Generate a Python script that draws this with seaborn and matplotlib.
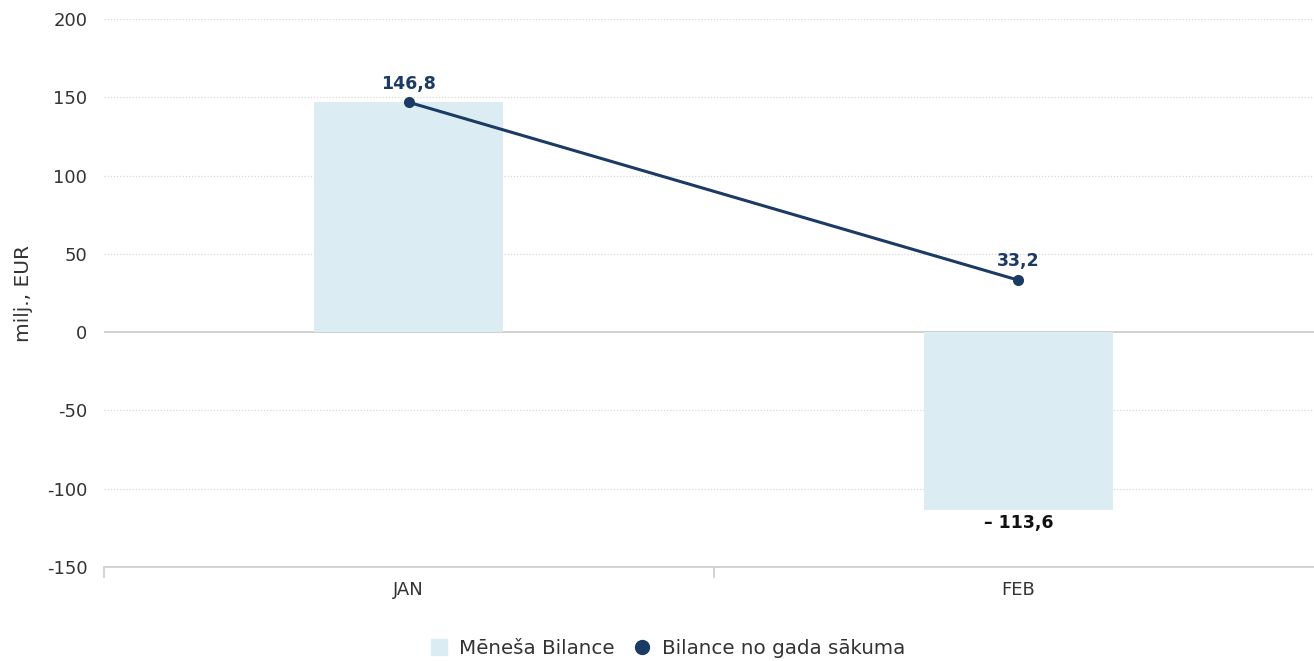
import matplotlib.pyplot as plt
import matplotlib.lines as mlines
import seaborn as sns
import pandas as pd

months = ['JAN', 'FEB']
monthly_balance = [146.8, -113.6]
ytd_balance = [146.8, 33.2]
y_ticks = [-150, -100, -50, 0, 50, 100, 150, 200]
y_tick_labels = ['-150', '-100', '-50', '0', '50', '100', '150', '200']

BAR_COLOR = '#dbedf3'
LINE_COLOR = '#1b3a64'
TEXT_COLOR = '#333333'

sns.set_style("white")
plt.rcParams['font.family'] = ['DejaVu Sans']

df = pd.DataFrame({'month': months, 'monthly': monthly_balance, 'ytd': ytd_balance})

fig = plt.figure(figsize=(13.14, 6.61), dpi=100)
ax = fig.add_axes([104 / 1314, 1 - 567 / 661, 1 - 104 / 1314, 548 / 661])

sns.barplot(data=df, x='month', y='monthly', color=BAR_COLOR, width=0.31,
            saturation=1, linewidth=0, ax=ax, zorder=2)
sns.lineplot(data=df, x='month', y='ytd', color=LINE_COLOR, linewidth=2.2,
             marker='o', markersize=8, markeredgewidth=0, ax=ax, zorder=4)

# the plot area is slightly cut at the right edge in the reference
ax.set_xlim(-0.5, 1.485)
ax.set_ylim(-150, 200)
ax.set_yticks(y_ticks)
ax.set_yticklabels(y_tick_labels)

# grid lines
for t in y_ticks:
    if t == 0:
        ax.axhline(0, color='#c8c8c8', linewidth=1.2, zorder=1)
    elif t != -150:
        ax.axhline(t, color='#d8d8d8', linewidth=0.9, linestyle=(0, (1, 1.5)), zorder=1)

for s in ['top', 'right', 'left']:
    ax.spines[s].set_visible(False)
ax.spines['bottom'].set_color('#cccccc')
ax.spines['bottom'].set_linewidth(1.2)

ax.set_xticks([-0.5, 0.5], minor=True)
ax.tick_params(axis='x', which='minor', bottom=True, length=8, width=1.2,
               color='#cccccc', direction='out')
ax.tick_params(axis='x', which='major', length=0, labelsize=13, labelcolor=TEXT_COLOR, pad=10)
ax.tick_params(axis='y', length=0, labelsize=13, labelcolor=TEXT_COLOR, pad=12)

ax.set_xlabel('')
ax.set_ylabel('milj., EUR', fontsize=14.5, color=TEXT_COLOR, labelpad=10)

# data labels
for i, v in enumerate(ytd_balance):
    ax.annotate(f'{v:.1f}'.replace('.', ','), (i, v), xytext=(0, 7), textcoords='offset points',
                ha='center', va='bottom', fontsize=12.5, fontweight='bold', color=LINE_COLOR, zorder=5)
for i, v in enumerate(monthly_balance):
    if v < 0:
        ax.annotate('– ' + f'{abs(v):.1f}'.replace('.', ','), (i, v), xytext=(0, -3),
                    textcoords='offset points', ha='center', va='top', fontsize=12.5,
                    fontweight='bold', color='#111111', zorder=5)

handles = [
    mlines.Line2D([], [], color=BAR_COLOR, marker='s', linestyle='', markersize=12),
    mlines.Line2D([], [], color=LINE_COLOR, marker='o', linestyle='', markersize=10),
]
fig.legend(handles, ['Mēneša Bilance', 'Bilance no gada sākuma'], loc='center',
           bbox_to_anchor=(0.507, 1 - 648 / 661), ncol=2, frameon=False, fontsize=14.3,
           handletextpad=0.4, columnspacing=0.8, labelcolor=TEXT_COLOR, handlelength=1.2)

fig.savefig('out.png', dpi=100)
plt.close(fig)
